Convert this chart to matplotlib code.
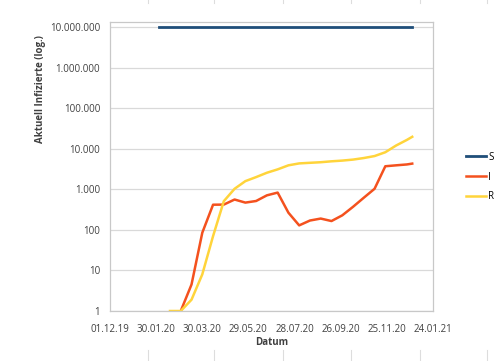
import numpy as np
import matplotlib
matplotlib.use("Agg")
import matplotlib.pyplot as plt
import matplotlib.dates as mdates
from matplotlib.ticker import FuncFormatter
from matplotlib.lines import Line2D
from datetime import date

plt.rcParams['font.family'] = ['Open Sans', 'DejaVu Sans']

# Daten (biweekly)
datum = [date(2020, 2, 3), date(2020, 2, 17), date(2020, 3, 2), date(2020, 3, 16),
         date(2020, 3, 30), date(2020, 4, 13), date(2020, 4, 27), date(2020, 5, 11),
         date(2020, 5, 25), date(2020, 6, 8), date(2020, 6, 22), date(2020, 7, 6),
         date(2020, 7, 20), date(2020, 8, 3), date(2020, 8, 17), date(2020, 8, 31),
         date(2020, 9, 14), date(2020, 9, 28), date(2020, 10, 12), date(2020, 10, 26),
         date(2020, 11, 9), date(2020, 11, 23), date(2020, 12, 7), date(2020, 12, 21),
         date(2020, 12, 28)]

S = [10000000, 10000000, 10000000, 10000000, 10000000, 10000000, 10000000,
     10000000, 10000000, 10000000, 10000000, 10000000, 10000000, 10000000,
     10000000, 10000000, 10000000, 10000000, 10000000, 10000000, 10000000,
     10000000, 10000000, 10000000, 10000000]
I = [np.nan, np.nan, 1, 4.5, 85, 417, 420, 560, 470, 515, 710, 830,
     265, 129, 170, 190, 165, 228, 370, 620, 1030, 3700, 3900, 4100, 4300]
R = [np.nan, 1, 1, 1.9, 8, 70, 510, 1030, 1590, 2000, 2560, 3100,
     3900, 4350, 4500, 4650, 4900, 5100, 5400, 5900, 6600, 8200, 12000, 16500, 19700]

xticks = [date(2019, 12, 1), date(2020, 1, 30), date(2020, 3, 30), date(2020, 5, 29),
          date(2020, 7, 28), date(2020, 9, 26), date(2020, 11, 25), date(2021, 1, 24)]
yticks = [1, 10, 100, 1000, 10000, 100000, 1000000, 10000000]

fig = plt.figure(figsize=(5, 3.61), dpi=100)
ax = fig.add_axes([0.22, 0.1385, 0.646, 0.8005])

ax.plot(datum, S, color='#1F4E79', lw=2.0, label='S')
ax.plot(datum, I, color='#F4511E', lw=1.8, label='I')
ax.plot(datum, R, color='#FFD43B', lw=1.8, label='R')

ax.set_yscale('log')
ax.set_ylim(1, 1.33e7)
ax.set_yticks(yticks)
ax.yaxis.set_major_formatter(FuncFormatter(lambda v, p: f"{int(round(v)):,}".replace(',', '.')))
ax.minorticks_off()
ax.set_xlim(xticks[0], xticks[-1])
ax.set_xticks(xticks)
ax.xaxis.set_major_formatter(mdates.DateFormatter('%d.%m.%y'))

ax.grid(axis='y', color='#D9D9D9', lw=0.9)
ax.set_axisbelow(True)
for sp in ax.spines.values():
    sp.set_color('#C8C8C8')
    sp.set_linewidth(0.9)
ax.tick_params(length=0, labelsize=7, colors='#404040')
ax.tick_params(axis='y', pad=7)
ax.tick_params(axis='x', pad=9)

ax.set_xlabel('Datum', fontsize=7, fontweight='bold', color='#404040', labelpad=2)
fig.text(0.08, 1 - 89 / 361, 'Aktuell Infizierte (log.)', rotation=90, fontsize=7,
         fontweight='bold', color='#404040', ha='center', va='center')

fig.legend(loc='center left', bbox_to_anchor=(0.932, 1 - 177 / 361), frameon=False,
           fontsize=7, handlelength=2.1, handletextpad=0.2, labelspacing=0.9,
           borderpad=0, borderaxespad=0)

# Zellgitter der Tabelle im Hintergrund
for xc in [148, 214, 283, 351, 420, 487]:
    fig.add_artist(Line2D([xc / 500, xc / 500], [1, 1 - 3 / 361], color='#DDDDDD', lw=0.8))
    fig.add_artist(Line2D([xc / 500, xc / 500], [0, 11 / 361], color='#DDDDDD', lw=0.8))

fig.savefig('out.png', dpi=100)
